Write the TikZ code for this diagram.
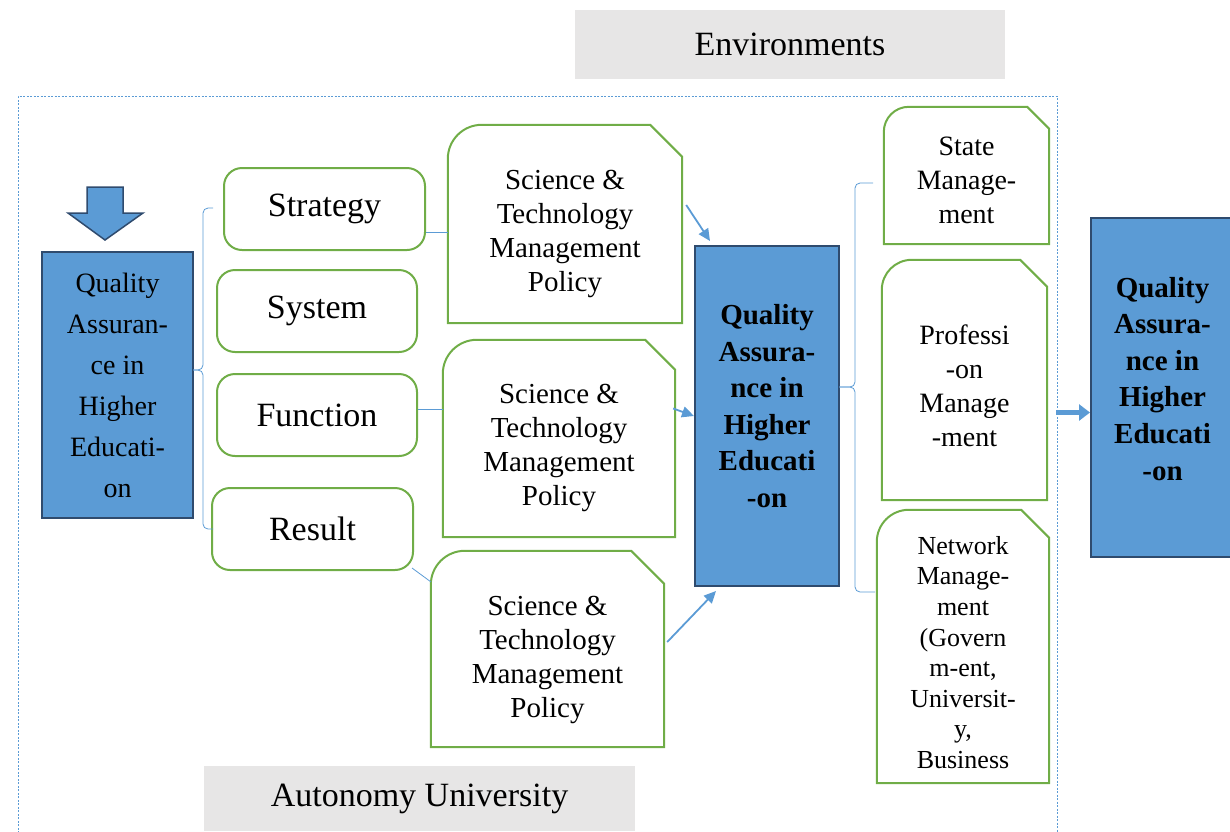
\documentclass[tikz,border=0pt]{standalone}
\usepackage{fontspec}
\setmainfont{Liberation Serif}
\usetikzlibrary{arrows.meta}
\definecolor{qblue}{HTML}{5B9BD5}
\definecolor{qdark}{HTML}{2F4B6E}
\definecolor{qgreen}{HTML}{70AD47}
\definecolor{qgrey}{HTML}{E7E6E6}
\tikzset{
  qabox/.style={draw=qdark, line width=2pt, fill=qblue, align=center, inner sep=0pt},
  greybox/.style={fill=qgrey, inner sep=0pt, font=\fontsize{34}{40}\selectfont},
  rbox/.style={draw=qgreen, line width=2pt, rounded corners=18pt, fill=white, inner sep=0pt,
    minimum width=200pt, minimum height=82pt, font=\fontsize{34}{40}\selectfont},
  tagbox/.style={align=center, inner sep=0pt},
  tagedge/.style={draw=qgreen, line width=2pt},
  lnk/.style={draw=qblue, line width=0.8pt},
  arr/.style={draw=qblue, line width=1.8pt, -{Triangle[length=12pt,width=11pt]}},
}
% outline with round top left and cut top right corner
\newcommand\tagline[3]{\draw[tagedge] (#1.south west) -- ([yshift=-#2pt]#1.north west)
  arc[start angle=180,end angle=90,radius=#2pt] -- ([xshift=-#3pt]#1.north east)
  -- ([yshift=-#3pt]#1.north east) -- (#1.south east) -- cycle;}
\begin{document}
\begin{tikzpicture}[x=1pt,y=-1pt]
\useasboundingbox (0,0) rectangle (1230,831);
\draw[qblue, line width=0.7pt, dash pattern=on 2pt off 1.5pt] (18,840) -- (18,96) -- (1057,96) -- (1057,840);
\node[greybox, minimum width=430pt, minimum height=69pt] (env) at (790,44.5) {Environments};
\node[greybox, minimum width=431pt, minimum height=65pt] (auto) at (419.5,798.5) {Autonomy University};

% input
\filldraw[fill=qblue, draw=qdark, line width=1.5pt] (87,187) -- (123,187) -- (123,213) -- (143,213) -- (105,240) -- (68,213) -- (87,213) -- cycle;
\node[qabox, minimum width=151pt, minimum height=266pt, font=\fontsize{28}{41}\selectfont] (qa1) at (117.5,385)
  {Quality\\Assuran-\\ce in\\Higher\\Educati-\\on};

% four parts
\node[rbox, minimum width=201pt] (strat) at (324.5,209) {Strategy};
\node[rbox] (sys) at (317,311) {System};
\node[rbox] (func) at (317,415) {Function};
\node[rbox, minimum width=201pt] (res) at (312.5,529) {Result};
\draw[lnk, rounded corners=5pt] (213,208) -- (203,208) -- (203,370) -- (193,370);
\draw[lnk, rounded corners=5pt] (193,370) -- (203,370) -- (203,529) -- (213,529);

% policies
\node[tagbox, minimum width=234pt, minimum height=198pt] (st1) at (565,224) {};
\node[tagbox, minimum width=232pt, minimum height=197pt] (st2) at (559,438.5) {};
\node[tagbox, minimum width=233pt, minimum height=196pt] (st3) at (547.5,649) {};
\tagline{st1}{34}{32}
\tagline{st2}{34}{30}
\tagline{st3}{34}{33}
\foreach \n/\dy in {st1/10, st2/9, st3/11} {
  \node[tagbox, font=\fontsize{29}{34}\selectfont] at ([yshift=-\dy pt]\n.center) {Science \&\\Technology\\Management\\Policy};
}
\coordinate (c1) at ([yshift=-23pt]strat.east);
\draw[lnk] (c1) -- (c1 -| st1.west);
\coordinate (c2) at ([yshift=6pt]func.east);
\draw[lnk] (c2) -- (c2 -| st2.west);
\draw[lnk] ([xshift=-2pt,yshift=3pt]res.south east) -- ([yshift=-31pt]st3.north west);

% centre
\node[qabox, minimum width=144pt, minimum height=340pt, font=\bfseries\fontsize{29}{36.5}\selectfont] (qa2) at (767,416)
  {Quality\\Assura-\\nce in\\Higher\\Educati\\-on\\[-16.5pt]};
\draw[arr] ([xshift=4pt,yshift=19pt]st1.east) -- ([xshift=16pt,yshift=4pt]qa2.north west);
\draw[arr] ([xshift=-2pt,yshift=30pt]st2.east) -- (qa2.west);
\draw[arr] ([xshift=3pt,yshift=7pt]st3.east) -- ([xshift=22pt,yshift=-4pt]qa2.south west);

% management levels
\node[tagbox, minimum width=165pt, minimum height=137pt] (state) at (966.5,175.5) {};
\node[tagbox, minimum width=165pt, minimum height=240pt] (prof) at (964.5,380) {};
\node[tagbox, minimum width=172pt, minimum height=273pt] (net) at (963,646.5) {};
\tagline{state}{25}{22}
\tagline{prof}{30}{27}
\tagline{net}{32}{28}
\node[tagbox, font=\fontsize{28}{34}\selectfont] at ([yshift=-5pt]state.center) {State\\Manage-\\ment};
\node[tagbox, font=\fontsize{28}{34}\selectfont] at ([yshift=-6pt]prof.center) {Professi\\-on\\Manage\\-ment};
\node[tagbox, font=\fontsize{26}{30.6}\selectfont] at ([yshift=-6pt]net.center) {Network\\Manage-\\ment\\(Govern\\m-ent,\\Universit-\\y,\\Business};
\draw[lnk, rounded corners=5pt] (873,183) -- (855,183) -- (855,387) -- (839,387);
\draw[lnk, rounded corners=5pt] (839,387) -- (855,387) -- (855,592) -- (875,592);

% output
\node[qabox, minimum width=143pt, minimum height=339pt, font=\bfseries\fontsize{29}{36.6}\selectfont] (qa3) at (1162.5,387.5)
  {Quality\\Assura-\\nce in\\Higher\\Educati\\-on\\[-18.6pt]};
\coordinate (c3) at ([yshift=-25pt]qa3.west);
\draw[draw=qblue, line width=5pt, -{Triangle[length=11pt,width=16pt]}] (c3 -| 1056,0) -- (c3);
\end{tikzpicture}
\end{document}
